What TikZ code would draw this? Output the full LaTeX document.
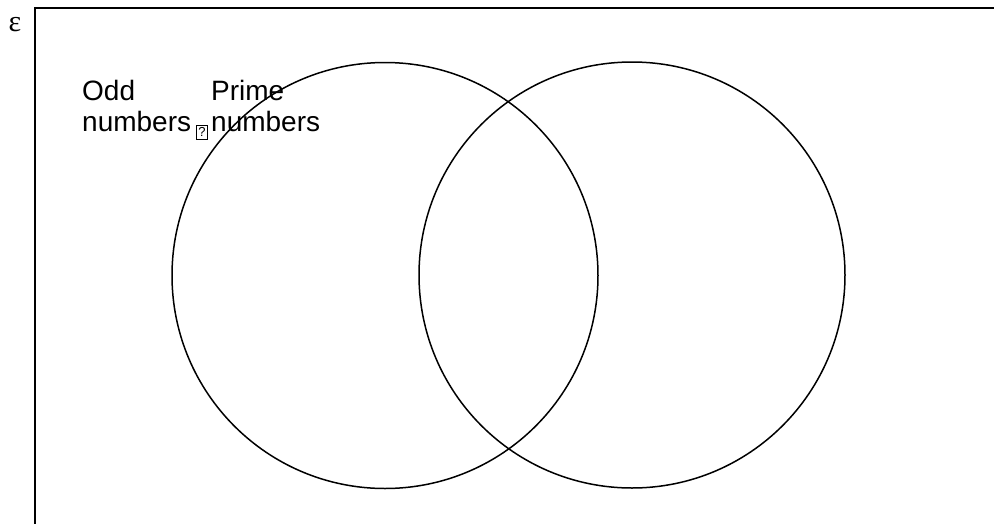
\documentclass[tikz,border=0pt]{standalone}
\usepackage{fontspec}
\setmainfont{Liberation Sans}
\newfontfamily\serifface{Liberation Serif}
\begin{document}
\begin{tikzpicture}[x=1pt,y=-1pt,
  lbl/.style={anchor=base west,inner sep=0pt,font=\fontsize{28}{32}\selectfont},
  setcircle/.style={draw=black,line width=1.5pt},
  frameline/.style={draw=black,line width=2pt},
  missing/.style={draw=black,line width=0.8pt,inner sep=0pt,font=\fontsize{13}{13}\selectfont,minimum width=11pt,minimum height=14pt}]
\useasboundingbox (0,0) rectangle (994,523);
\fill[white] (0,0) rectangle (994,523);
\coordinate (tl) at (34.5,7.5);
\coordinate (tr) at (996,7.5);
\coordinate (bl) at (34.5,525);
\draw[frameline] (tr) -- (tl) -- (bl);
\node[inner sep=0pt,font=\serifface\fontsize{30}{30}\selectfont] (eps) at (15,25) {ε};
\node[setcircle,circle,minimum size=426pt,inner sep=0pt] (odd) at (385,275.5) {};
\node[setcircle,circle,minimum size=426pt,inner sep=0pt] (prime) at (632,275) {};
\node[lbl] (t1) at (82,100) {Odd};
\node[lbl] (t2) at (82,131) {numbers};
\node[missing] (q) at (202,132) {?};
\node[lbl] (t3) at (211,100) {Prime};
\node[lbl] (t4) at (211,131) {numbers};
\end{tikzpicture}
\end{document}
